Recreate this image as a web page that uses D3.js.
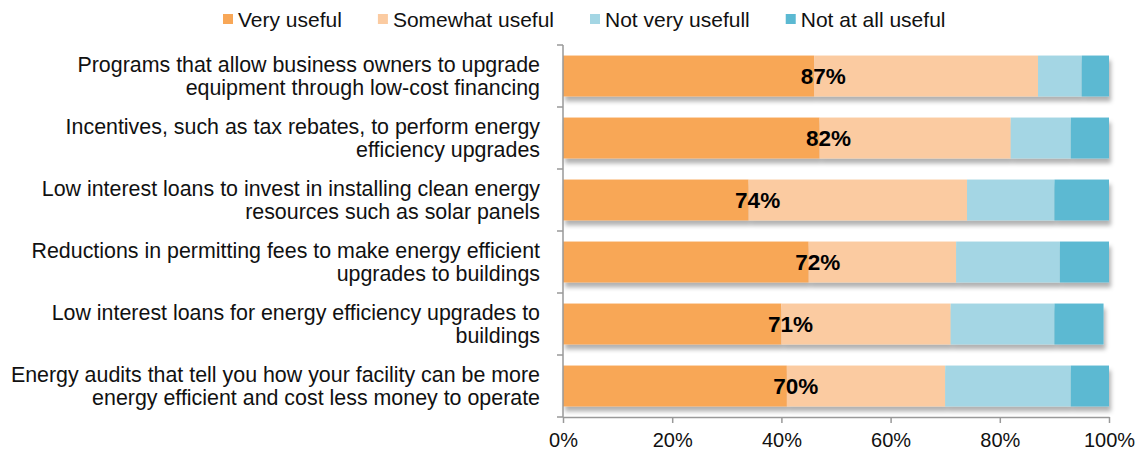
<!DOCTYPE html>
<html>
<head>
<meta http-equiv='Content-Type' content='text/html;charset=utf-8'/>
<title>Usefulness of programs</title>
<script src='https://d3js.org/d3.v7.min.js'></script>
<style>
  body { margin: 0; background: #fff; }
  text { font-family: 'Liberation Sans', Arial, sans-serif; }
</style>
</head>
<body>
<script>
'use strict';
// categories, top to bottom, already split into the two lines shown
const categories = [
  ['Programs that allow business owners to upgrade', 'equipment through low-cost financing'],
  ['Incentives, such as tax rebates, to perform energy', 'efficiency upgrades'],
  ['Low interest loans to invest in installing clean energy', 'resources such as solar panels'],
  ['Reductions in permitting fees to make energy efficient', 'upgrades to buildings'],
  ['Low interest loans for energy efficiency upgrades to', 'buildings'],
  ['Energy audits that tell you how your facility can be more', 'energy efficient and cost less money to operate']
];
const seriesNames = ['Very useful', 'Somewhat useful', 'Not very usefull', 'Not at all useful'];
const veryUseful     = [46, 47, 34, 45, 40, 41];
const somewhatUseful = [41, 35, 40, 27, 31, 29];
const notVeryUseful  = [8, 11, 16, 19, 19, 23];
const notAtAllUseful = [5, 7, 10, 9, 9, 7];
const usefulTotals   = [87, 82, 74, 72, 71, 70];   // very + somewhat, printed on bars
const xTicks = [0, 20, 40, 60, 80, 100];

const colors = ['#f8a757', '#fbcba1', '#a4d6e4', '#5bb9d2'];

const width = 1140, height = 452;
const plot = {left: 563, right: 1109, top: 45, bottom: 417};

const svg = d3.select('body').append('svg')
  .attr('width', width)
  .attr('height', height);

const defs = svg.append('defs');
defs.append('filter')
    .attr('id', 'shadow')
    .attr('x', '-5%').attr('y', '-20%')
    .attr('width', '110%').attr('height', '160%')
  .append('feDropShadow')
    .attr('dx', 2).attr('dy', 5)
    .attr('stdDeviation', 2.2)
    .attr('flood-color', '#000')
    .attr('flood-opacity', 0.3);

const rows = categories.map(function(c, i) {
  return {
    key: i,
    'Very useful': veryUseful[i],
    'Somewhat useful': somewhatUseful[i],
    'Not very usefull': notVeryUseful[i],
    'Not at all useful': notAtAllUseful[i]
  };
});

const x = d3.scaleLinear().domain([0, 100]).range([plot.left, plot.right]);
const y = d3.scaleBand()
  .domain(d3.range(categories.length))
  .range([plot.top, plot.bottom])
  .paddingInner(0.34)
  .paddingOuter(0.17);

const stacked = d3.stack().keys(seriesNames)(rows);

// bars, one group per row so the shadow falls under the whole bar
const rowGroups = svg.append('g').selectAll('g')
  .data(rows)
  .join('g')
    .attr('filter', 'url(#shadow)');

rowGroups.each(function(r, i) {
  d3.select(this).selectAll('rect')
    .data(stacked.map(function(s, k) { return {k: k, seg: s[i]}; }))
    .join('rect')
      .attr('x', function(d) { return x(d.seg[0]); })
      .attr('width', function(d) { return x(d.seg[1]) - x(d.seg[0]); })
      .attr('y', y(i))
      .attr('height', y.bandwidth())
      .attr('fill', function(d) { return colors[d.k]; });
});

// totals printed near the very/somewhat boundary
svg.append('g').selectAll('text')
  .data(usefulTotals)
  .join('text')
    .attr('x', function(d, i) { return x(veryUseful[i]) + 9; })
    .attr('y', function(d, i) { return y(i) + y.bandwidth() / 2; })
    .attr('dy', '0.36em')
    .attr('text-anchor', 'middle')
    .attr('font-size', 22.5)
    .attr('font-weight', 'bold')
    .attr('fill', '#000')
    .text(function(d) { return d + '%'; });

// category axis: line plus ticks between the bands
const step = y.step();
const boundaries = d3.range(categories.length + 1).map(function(i) {
  return plot.top + i * step;
});
const yAxis = svg.append('g');
yAxis.append('line')
  .attr('x1', plot.left).attr('x2', plot.left)
  .attr('y1', plot.top).attr('y2', plot.bottom)
  .attr('stroke', '#999').attr('stroke-width', 1.5);
yAxis.selectAll('.tick')
  .data(boundaries)
  .join('line')
    .attr('class', 'tick')
    .attr('x1', plot.left - 6).attr('x2', plot.left)
    .attr('y1', function(d) { return d; })
    .attr('y2', function(d) { return d; })
    .attr('stroke', '#999').attr('stroke-width', 1.5);

// category labels, right aligned
const labels = svg.append('g').selectAll('text')
  .data(categories)
  .join('text')
    .attr('text-anchor', 'end')
    .attr('font-size', 21.4)
    .attr('fill', '#111');
labels.each(function(lines, i) {
  const cy = y(i) + y.bandwidth() / 2;
  d3.select(this).selectAll('tspan')
    .data(lines)
    .join('tspan')
      .attr('x', 540)
      .attr('y', function(d, j) { return cy - 4 + j * 23; })
      .text(function(d) { return d; });
});

// value axis
const xAxis = svg.append('g')
  .attr('transform', 'translate(0,' + plot.bottom + ')')
  .call(d3.axisBottom(x)
    .tickValues(xTicks)
    .tickFormat(function(d) { return d + '%'; })
    .tickSize(6)
    .tickSizeOuter(0)
    .tickPadding(10));
xAxis.select('.domain').attr('stroke', '#999').attr('stroke-width', 1.5);
xAxis.selectAll('.tick line').attr('stroke', '#999').attr('stroke-width', 1.5);
xAxis.selectAll('.tick text')
  .attr('font-size', 20)
  .attr('font-family', "'Liberation Sans', Arial, sans-serif")
  .attr('fill', '#111');

// legend, laid out from measured text widths
const legend = svg.append('g');
let lx = 223;
seriesNames.forEach(function(name, i) {
  legend.append('rect')
    .attr('x', lx).attr('y', 14)
    .attr('width', 10).attr('height', 10)
    .attr('fill', colors[i]);
  const t = legend.append('text')
    .attr('x', lx + 15).attr('y', 27)
    .attr('font-size', 21)
    .attr('fill', '#111')
    .text(name);
  lx += 15 + t.node().getComputedTextLength() + 36;
});
</script>
</body>
</html>
